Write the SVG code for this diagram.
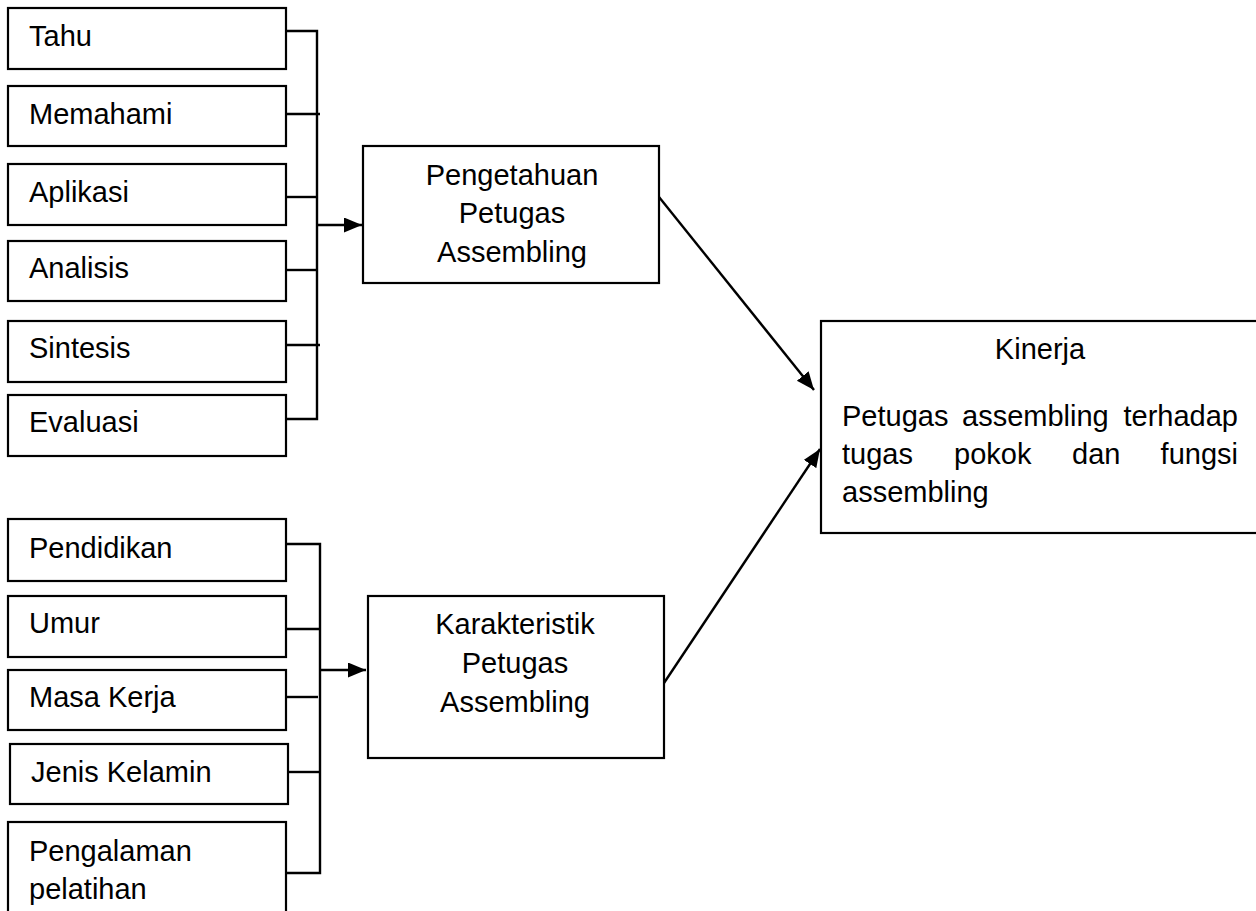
<svg xmlns="http://www.w3.org/2000/svg" width="1256" height="911" viewBox="0 0 1256 911">
<style>
.box{fill:#fff;stroke:#000;stroke-width:2.2}
.t{font-family:"Liberation Sans",Arial,sans-serif;font-size:29px;fill:#000}
.c{text-anchor:middle}
.e{text-anchor:end}
.ln{fill:none;stroke:#000;stroke-width:2.4}
</style>
<defs>
<marker id="ah" markerUnits="userSpaceOnUse" markerWidth="20" markerHeight="16" refX="18" refY="7.5" orient="auto">
<path d="M0,0 L18,7.5 L0,15 Z" fill="#000"/>
</marker>
</defs>
<rect width="1256" height="911" fill="#fff"/>
<g id="connectors">
<path class="ln" d="M286,31 H317 V419 H286"/>
<path class="ln" d="M286,114 H320"/>
<path class="ln" d="M286,197 H317"/>
<path class="ln" d="M286,270 H317"/>
<path class="ln" d="M286,345 H320"/>
<path class="ln" d="M317,225 H362" marker-end="url(#ah)"/>
<path class="ln" d="M286,544 H320 V873 H286"/>
<path class="ln" d="M286,629 H320"/>
<path class="ln" d="M286,697 H318"/>
<path class="ln" d="M288,772 H320"/>
<path class="ln" d="M320,670 H366" marker-end="url(#ah)"/>
<path class="ln" d="M659,197 L814,390" marker-end="url(#ah)"/>
<path class="ln" d="M664,683 L820,449" marker-end="url(#ah)"/>
</g>
<g id="tahu"><rect class="box" x="8" y="8" width="278" height="61"/><text class="t" x="29" y="46">Tahu</text></g>
<g id="memahami"><rect class="box" x="8" y="86" width="278" height="60"/><text class="t" x="29" y="124">Memahami</text></g>
<g id="aplikasi"><rect class="box" x="8" y="164" width="278" height="61"/><text class="t" x="29" y="202">Aplikasi</text></g>
<g id="analisis"><rect class="box" x="8" y="241" width="278" height="60"/><text class="t" x="29" y="278">Analisis</text></g>
<g id="sintesis"><rect class="box" x="8" y="321" width="278" height="61"/><text class="t" x="29" y="358">Sintesis</text></g>
<g id="evaluasi"><rect class="box" x="8" y="395" width="278" height="61"/><text class="t" x="29" y="432">Evaluasi</text></g>
<g id="pengetahuan"><rect class="box" x="363" y="146" width="296" height="137"/>
<text class="t c" x="512" y="185">Pengetahuan</text>
<text class="t c" x="512" y="223">Petugas</text>
<text class="t c" x="512" y="262">Assembling</text></g>
<g id="pendidikan"><rect class="box" x="8" y="519" width="278" height="62"/><text class="t" x="29" y="558">Pendidikan</text></g>
<g id="umur"><rect class="box" x="8" y="596" width="278" height="61"/><text class="t" x="29" y="633">Umur</text></g>
<g id="masakerja"><rect class="box" x="8" y="670" width="278" height="60"/><text class="t" x="29" y="707">Masa Kerja</text></g>
<g id="jeniskelamin"><rect class="box" x="10" y="744" width="278" height="60"/><text class="t" x="31" y="782">Jenis Kelamin</text></g>
<g id="pengalaman"><rect class="box" x="8" y="822" width="278" height="120"/>
<text class="t" x="29" y="861">Pengalaman</text>
<text class="t" x="29" y="899">pelatihan</text></g>
<g id="karakteristik"><rect class="box" x="368" y="596" width="296" height="162"/>
<text class="t c" x="515" y="634">Karakteristik</text>
<text class="t c" x="515" y="673">Petugas</text>
<text class="t c" x="515" y="712">Assembling</text></g>
<g id="kinerja"><rect class="box" x="821" y="321" width="460" height="212"/>
<text class="t c" x="1040" y="359">Kinerja</text>
<text class="t" x="842" y="426">Petugas</text>
<text class="t" x="962" y="426">assembling</text>
<text class="t e" x="1238" y="426">terhadap</text>
<text class="t" x="842" y="464">tugas</text>
<text class="t" x="954" y="464">pokok</text>
<text class="t" x="1072" y="464">dan</text>
<text class="t e" x="1238" y="464">fungsi</text>
<text class="t" x="842" y="502">assembling</text></g>
</svg>
